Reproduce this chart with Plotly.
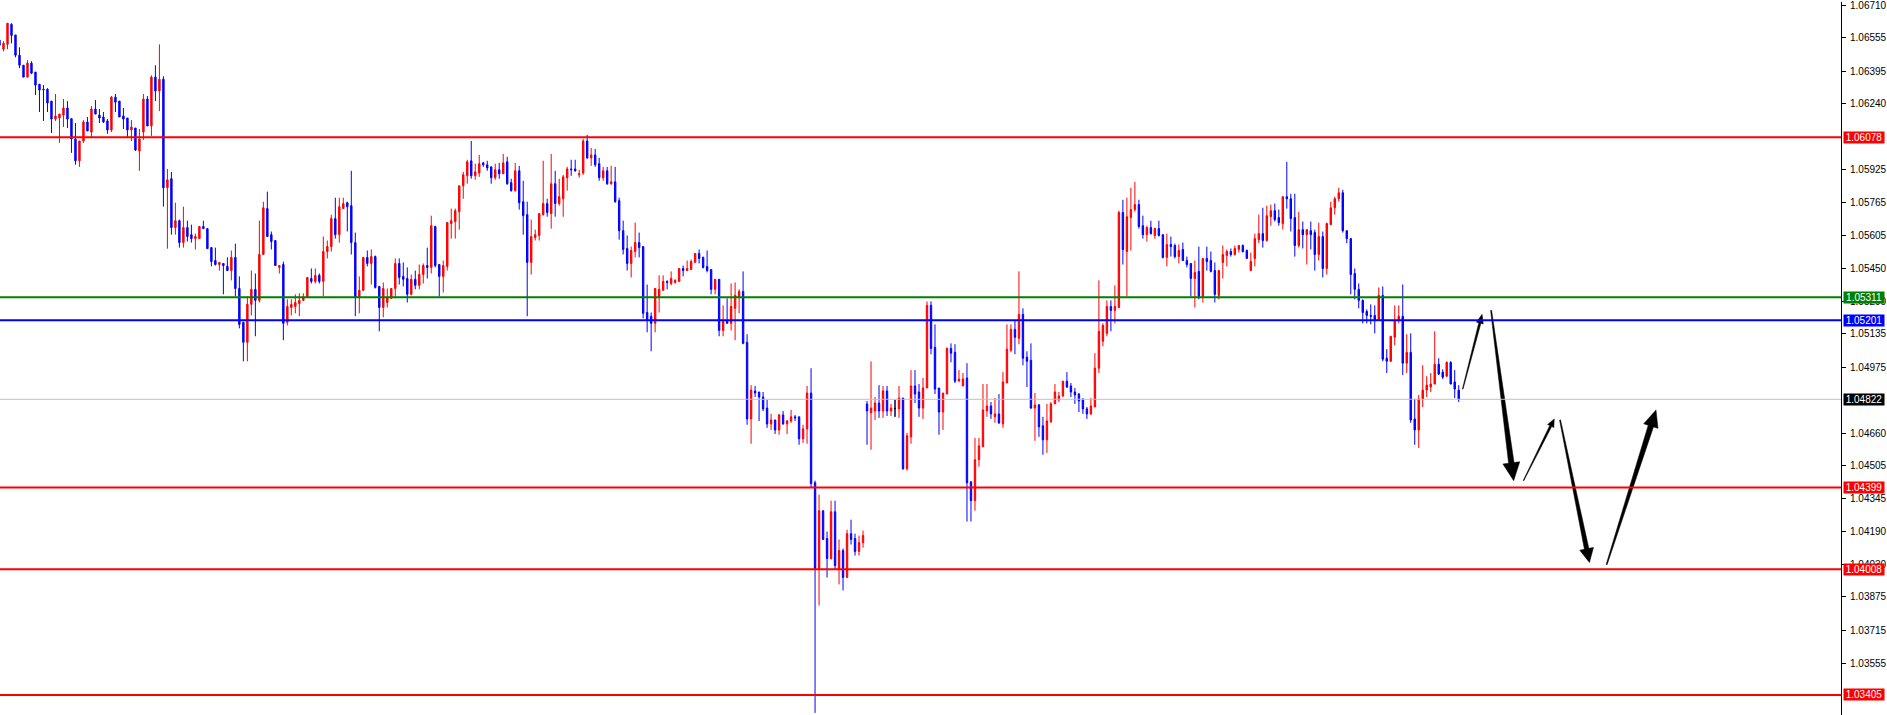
import math
import plotly.graph_objects as go

# ---------------- data (bar index -1 .. 364) ----------------
bar_index = list(range(-1, 365))

opens = [
 1.06543,
 1.06500, 1.06523, 1.06619, 1.06568, 1.06471, 1.06423, 1.06366, 1.06433, 1.06390, 1.06332,
 1.06308, 1.06308, 1.06251, 1.06165, 1.06170, 1.06184, 1.06218, 1.06167, 1.06070, 1.05965,
 1.06060, 1.06151, 1.06103, 1.06213, 1.06184, 1.06175, 1.06156, 1.06113, 1.06270, 1.06251,
 1.06180, 1.06170, 1.06113, 1.06122, 1.06012, 1.06103, 1.06261, 1.06132, 1.06366, 1.06300,
 1.06356, 1.05836, 1.05879, 1.05645, 1.05678, 1.05573, 1.05645, 1.05611, 1.05592, 1.05592,
 1.05650, 1.05640, 1.05549, 1.05487, 1.05468, 1.05473, 1.05459, 1.05439, 1.05502, 1.05353,
 1.05191, 1.05095, 1.05277, 1.05349, 1.05296, 1.05516, 1.05736, 1.05611, 1.05583, 1.05454,
 1.05468, 1.05191, 1.05262, 1.05267, 1.05281, 1.05296, 1.05310, 1.05401, 1.05387, 1.05416,
 1.05387, 1.05530, 1.05554, 1.05688, 1.05611, 1.05736, 1.05764, 1.05750, 1.05573, 1.05310,
 1.05344, 1.05502, 1.05473, 1.05506, 1.05363, 1.05262, 1.05286, 1.05306, 1.05353, 1.05473,
 1.05411, 1.05401, 1.05325, 1.05397, 1.05368, 1.05420, 1.05463, 1.05454, 1.05650, 1.05468,
 1.05411, 1.05459, 1.05664, 1.05674, 1.05721, 1.05845, 1.05893, 1.05965, 1.05893, 1.05907,
 1.05955, 1.05946, 1.05936, 1.05884, 1.05922, 1.05903, 1.05960, 1.05860, 1.05822, 1.05917,
 1.05769, 1.05707, 1.05478, 1.05597, 1.05607, 1.05707, 1.05760, 1.05712, 1.05855, 1.05760,
 1.05783, 1.05884, 1.05926, 1.05926, 1.05898, 1.05907, 1.06060, 1.05979, 1.05993, 1.05951,
 1.05884, 1.05917, 1.05855, 1.05864, 1.05774, 1.05630, 1.05545, 1.05473, 1.05530, 1.05573,
 1.05554, 1.05238, 1.05220, 1.05186, 1.05310, 1.05344, 1.05387, 1.05377, 1.05382, 1.05387,
 1.05449, 1.05439, 1.05444, 1.05478, 1.05521, 1.05502, 1.05459, 1.05444, 1.05349, 1.05397,
 1.05152, 1.05196, 1.05186, 1.05258, 1.05315, 1.05339, 1.05095, 1.04728, 1.04862, 1.04857,
 1.04833, 1.04780, 1.04704, 1.04723, 1.04675, 1.04747, 1.04704, 1.04718, 1.04738, 1.04738,
 1.04633, 1.04680, 1.04852, 1.04422, 1.04011, 1.04288, 1.04155, 1.04059, 1.04283, 1.04006,
 1.04097, 1.03968, 1.04178, 1.04155, 1.04093, 1.04135, 1.04800, 1.04757, 1.04766, 1.04804,
 1.04766, 1.04862, 1.04766, 1.04778, 1.04776, 1.04828, 1.04489, 1.04642, 1.04886, 1.04857,
 1.04780, 1.04876, 1.05272, 1.05071, 1.04876, 1.04761, 1.04847, 1.05066, 1.05047, 1.04909,
 1.04886, 1.04924, 1.04427, 1.04336, 1.04532, 1.04594, 1.04766, 1.04790, 1.04738, 1.04752,
 1.04704, 1.04900, 1.05057, 1.05157, 1.05114, 1.05229, 1.05024, 1.05009, 1.04780, 1.04795,
 1.04695, 1.04628, 1.04714, 1.04800, 1.04819, 1.04838, 1.04909, 1.04886, 1.04857, 1.04847,
 1.04819, 1.04776, 1.04752, 1.04785, 1.04971, 1.05100, 1.05138, 1.05267, 1.05248, 1.05262,
 1.05717, 1.05530, 1.05693, 1.05731, 1.05755, 1.05654, 1.05611, 1.05645, 1.05607, 1.05640,
 1.05611, 1.05502, 1.05564, 1.05559, 1.05506, 1.05540, 1.05487, 1.05473, 1.05401, 1.05435,
 1.05315, 1.05497, 1.05487, 1.05439, 1.05320, 1.05478, 1.05511, 1.05530, 1.05516, 1.05540,
 1.05559, 1.05535, 1.05439, 1.05497, 1.05587, 1.05616, 1.05583, 1.05697, 1.05726, 1.05693,
 1.05664, 1.05793, 1.05783, 1.05693, 1.05559, 1.05635, 1.05611, 1.05630, 1.05621, 1.05516,
 1.05602, 1.05449, 1.05659, 1.05740, 1.05783, 1.05812, 1.05630, 1.05592, 1.05425, 1.05349,
 1.05296, 1.05243, 1.05224, 1.05224, 1.05200, 1.05320, 1.05019, 1.05004, 1.05119, 1.05200,
 1.05220, 1.04995, 1.05047, 1.04728, 1.04675, 1.04824, 1.04866, 1.04881, 1.04895, 1.04990,
 1.04952, 1.04933, 1.04999, 1.04905, 1.04866,
]

highs = [
 1.06547,
 1.06538, 1.06624, 1.06624, 1.06568, 1.06509, 1.06423, 1.06447, 1.06442, 1.06390, 1.06332,
 1.06328, 1.06313, 1.06251, 1.06285, 1.06189, 1.06261, 1.06251, 1.06167, 1.06146, 1.06060,
 1.06160, 1.06175, 1.06227, 1.06256, 1.06213, 1.06199, 1.06165, 1.06275, 1.06285, 1.06251,
 1.06218, 1.06170, 1.06160, 1.06122, 1.06117, 1.06285, 1.06275, 1.06375, 1.06423, 1.06523,
 1.06370, 1.05926, 1.05912, 1.05764, 1.05683, 1.05745, 1.05678, 1.05659, 1.05616, 1.05650,
 1.05678, 1.05640, 1.05549, 1.05549, 1.05478, 1.05473, 1.05502, 1.05535, 1.05568, 1.05411,
 1.05191, 1.05315, 1.05439, 1.05425, 1.05678, 1.05769, 1.05817, 1.05626, 1.05583, 1.05463,
 1.05482, 1.05301, 1.05301, 1.05325, 1.05330, 1.05330, 1.05406, 1.05449, 1.05449, 1.05425,
 1.05602, 1.05583, 1.05707, 1.05788, 1.05788, 1.05788, 1.05769, 1.05917, 1.05621, 1.05411,
 1.05502, 1.05535, 1.05540, 1.05511, 1.05363, 1.05382, 1.05353, 1.05353, 1.05497, 1.05497,
 1.05478, 1.05454, 1.05420, 1.05439, 1.05468, 1.05473, 1.05549, 1.05702, 1.05654, 1.05468,
 1.05487, 1.05669, 1.05736, 1.05736, 1.05845, 1.05912, 1.05970, 1.06060, 1.05951, 1.05993,
 1.05960, 1.05965, 1.05936, 1.05951, 1.05955, 1.05998, 1.05984, 1.05879, 1.05955, 1.05941,
 1.05869, 1.05769, 1.05683, 1.05635, 1.05712, 1.05965, 1.05783, 1.05998, 1.05917, 1.05879,
 1.05898, 1.05936, 1.05970, 1.05970, 1.05922, 1.06070, 1.06089, 1.06027, 1.06022, 1.05979,
 1.05936, 1.05936, 1.05941, 1.05936, 1.05788, 1.05678, 1.05607, 1.05554, 1.05669, 1.05621,
 1.05554, 1.05372, 1.05238, 1.05353, 1.05416, 1.05416, 1.05392, 1.05435, 1.05397, 1.05449,
 1.05463, 1.05487, 1.05492, 1.05521, 1.05540, 1.05506, 1.05535, 1.05444, 1.05397, 1.05397,
 1.05272, 1.05306, 1.05377, 1.05382, 1.05349, 1.05435, 1.05134, 1.04890, 1.04886, 1.04857,
 1.04857, 1.04819, 1.04752, 1.04723, 1.04752, 1.04766, 1.04723, 1.04771, 1.04747, 1.04738,
 1.04700, 1.04886, 1.04971, 1.04432, 1.04365, 1.04288, 1.04188, 1.04336, 1.04336, 1.04150,
 1.04107, 1.04197, 1.04245, 1.04178, 1.04169, 1.04193, 1.04814, 1.05004, 1.04833, 1.04890,
 1.04886, 1.04886, 1.04800, 1.04819, 1.04886, 1.04828, 1.04661, 1.04962, 1.04962, 1.04895,
 1.04924, 1.05291, 1.05291, 1.05181, 1.04876, 1.04852, 1.05071, 1.05090, 1.05086, 1.04962,
 1.04948, 1.04995, 1.04427, 1.04637, 1.04637, 1.04895, 1.04895, 1.04809, 1.04828, 1.04847,
 1.04952, 1.05181, 1.05181, 1.05200, 1.05435, 1.05258, 1.05052, 1.05090, 1.04852, 1.04800,
 1.04738, 1.04800, 1.04809, 1.04895, 1.04857, 1.04909, 1.04952, 1.04900, 1.04876, 1.04852,
 1.04828, 1.04785, 1.04828, 1.05043, 1.05392, 1.05186, 1.05296, 1.05296, 1.05368, 1.05726,
 1.05778, 1.05788, 1.05836, 1.05864, 1.05778, 1.05702, 1.05654, 1.05678, 1.05645, 1.05678,
 1.05611, 1.05616, 1.05602, 1.05568, 1.05564, 1.05573, 1.05506, 1.05473, 1.05487, 1.05554,
 1.05497, 1.05554, 1.05530, 1.05478, 1.05439, 1.05559, 1.05540, 1.05545, 1.05559, 1.05561,
 1.05564, 1.05540, 1.05525, 1.05616, 1.05707, 1.05740, 1.05750, 1.05755, 1.05760, 1.05731,
 1.05793, 1.05960, 1.05807, 1.05807, 1.05721, 1.05674, 1.05635, 1.05674, 1.05635, 1.05669,
 1.05626, 1.05669, 1.05769, 1.05793, 1.05836, 1.05826, 1.05630, 1.05592, 1.05449, 1.05377,
 1.05301, 1.05253, 1.05277, 1.05272, 1.05358, 1.05363, 1.05062, 1.05124, 1.05272, 1.05272,
 1.05372, 1.05134, 1.05138, 1.04824, 1.04843, 1.04985, 1.04933, 1.04948, 1.05148, 1.05019,
 1.04966, 1.05004, 1.05004, 1.04962, 1.04890,
]

lows = [
 1.06509,
 1.06490, 1.06500, 1.06528, 1.06461, 1.06409, 1.06366, 1.06366, 1.06380, 1.06280, 1.06199,
 1.06156, 1.06199, 1.06098, 1.06156, 1.06051, 1.06127, 1.06122, 1.06003, 1.05946, 1.05936,
 1.06051, 1.06108, 1.06079, 1.06189, 1.06146, 1.06146, 1.06094, 1.06103, 1.06199, 1.06175,
 1.06117, 1.06074, 1.06060, 1.06012, 1.05917, 1.06065, 1.06132, 1.06084, 1.06251, 1.06203,
 1.05745, 1.05544, 1.05611, 1.05611, 1.05549, 1.05549, 1.05578, 1.05573, 1.05540, 1.05592,
 1.05640, 1.05544, 1.05459, 1.05463, 1.05439, 1.05325, 1.05439, 1.05392, 1.05315, 1.05162,
 1.05004, 1.05004, 1.05224, 1.05124, 1.05286, 1.05516, 1.05602, 1.05540, 1.05463, 1.05425,
 1.05105, 1.05176, 1.05224, 1.05234, 1.05220, 1.05296, 1.05310, 1.05377, 1.05377, 1.05377,
 1.05315, 1.05497, 1.05530, 1.05592, 1.05573, 1.05736, 1.05626, 1.05516, 1.05220, 1.05234,
 1.05344, 1.05459, 1.05372, 1.05353, 1.05148, 1.05215, 1.05262, 1.05306, 1.05306, 1.05372,
 1.05363, 1.05286, 1.05320, 1.05349, 1.05349, 1.05377, 1.05401, 1.05425, 1.05454, 1.05315,
 1.05334, 1.05439, 1.05592, 1.05592, 1.05635, 1.05783, 1.05855, 1.05879, 1.05874, 1.05888,
 1.05936, 1.05917, 1.05855, 1.05874, 1.05879, 1.05903, 1.05850, 1.05817, 1.05817, 1.05731,
 1.05611, 1.05220, 1.05420, 1.05583, 1.05583, 1.05702, 1.05697, 1.05640, 1.05697, 1.05750,
 1.05697, 1.05822, 1.05893, 1.05912, 1.05884, 1.05898, 1.05974, 1.05941, 1.05936, 1.05869,
 1.05869, 1.05850, 1.05850, 1.05764, 1.05587, 1.05516, 1.05439, 1.05406, 1.05502, 1.05502,
 1.05210, 1.05143, 1.05052, 1.05143, 1.05238, 1.05344, 1.05349, 1.05368, 1.05377, 1.05387,
 1.05411, 1.05439, 1.05444, 1.05478, 1.05473, 1.05449, 1.05430, 1.05325, 1.05325, 1.05124,
 1.05124, 1.05186, 1.05152, 1.05105, 1.05234, 1.05086, 1.04700, 1.04609, 1.04833, 1.04718,
 1.04766, 1.04685, 1.04675, 1.04656, 1.04652, 1.04700, 1.04656, 1.04709, 1.04718, 1.04604,
 1.04613, 1.04609, 1.04398, 1.03319, 1.03834, 1.04150, 1.03968, 1.04054, 1.04006, 1.03935,
 1.03906, 1.03968, 1.04126, 1.04073, 1.04073, 1.04111, 1.04604, 1.04580, 1.04723, 1.04733,
 1.04733, 1.04742, 1.04742, 1.04738, 1.04733, 1.04484, 1.04480, 1.04609, 1.04804, 1.04738,
 1.04728, 1.04876, 1.05038, 1.04847, 1.04652, 1.04675, 1.04847, 1.04999, 1.04900, 1.04909,
 1.04886, 1.04236, 1.04236, 1.04288, 1.04499, 1.04594, 1.04738, 1.04728, 1.04709, 1.04704,
 1.04685, 1.04900, 1.05047, 1.05038, 1.05086, 1.04985, 1.04881, 1.04776, 1.04623, 1.04642,
 1.04556, 1.04565, 1.04709, 1.04800, 1.04809, 1.04833, 1.04876, 1.04833, 1.04800, 1.04761,
 1.04752, 1.04728, 1.04747, 1.04785, 1.04948, 1.05076, 1.05124, 1.05148, 1.05186, 1.05258,
 1.05468, 1.05315, 1.05535, 1.05721, 1.05640, 1.05592, 1.05578, 1.05611, 1.05592, 1.05602,
 1.05497, 1.05459, 1.05506, 1.05497, 1.05473, 1.05487, 1.05454, 1.05315, 1.05262, 1.05301,
 1.05286, 1.05439, 1.05430, 1.05286, 1.05301, 1.05401, 1.05459, 1.05506, 1.05511, 1.05525,
 1.05525, 1.05497, 1.05439, 1.05459, 1.05570, 1.05549, 1.05578, 1.05654, 1.05674, 1.05654,
 1.05635, 1.05736, 1.05626, 1.05506, 1.05549, 1.05545, 1.05468, 1.05540, 1.05439, 1.05487,
 1.05406, 1.05420, 1.05659, 1.05707, 1.05769, 1.05621, 1.05570, 1.05325, 1.05301, 1.05258,
 1.05186, 1.05186, 1.05181, 1.05138, 1.05200, 1.05004, 1.04948, 1.05004, 1.05081, 1.05186,
 1.04938, 1.04948, 1.04709, 1.04604, 1.04589, 1.04785, 1.04833, 1.04857, 1.04895, 1.04938,
 1.04919, 1.04928, 1.04895, 1.04828, 1.04809,
]

closes = [
 1.06519,
 1.06528, 1.06624, 1.06566, 1.06471, 1.06423, 1.06366, 1.06433, 1.06385, 1.06328, 1.06304,
 1.06305, 1.06242, 1.06165, 1.06180, 1.06189, 1.06218, 1.06165, 1.06070, 1.05965, 1.06060,
 1.06151, 1.06108, 1.06213, 1.06189, 1.06170, 1.06151, 1.06113, 1.06270, 1.06246, 1.06175,
 1.06165, 1.06113, 1.06127, 1.06017, 1.06070, 1.06261, 1.06132, 1.06366, 1.06300, 1.06356,
 1.05836, 1.05874, 1.05645, 1.05678, 1.05573, 1.05645, 1.05602, 1.05592, 1.05602, 1.05650,
 1.05640, 1.05544, 1.05482, 1.05468, 1.05478, 1.05463, 1.05439, 1.05502, 1.05353, 1.05181,
 1.05095, 1.05277, 1.05349, 1.05296, 1.05516, 1.05740, 1.05602, 1.05578, 1.05463, 1.05463,
 1.05186, 1.05267, 1.05277, 1.05286, 1.05296, 1.05310, 1.05406, 1.05387, 1.05416, 1.05387,
 1.05530, 1.05554, 1.05688, 1.05611, 1.05745, 1.05760, 1.05745, 1.05573, 1.05310, 1.05344,
 1.05502, 1.05473, 1.05506, 1.05358, 1.05262, 1.05353, 1.05310, 1.05353, 1.05473, 1.05406,
 1.05397, 1.05325, 1.05397, 1.05368, 1.05420, 1.05463, 1.05454, 1.05654, 1.05463, 1.05411,
 1.05463, 1.05669, 1.05678, 1.05726, 1.05845, 1.05898, 1.05960, 1.05893, 1.05912, 1.05951,
 1.05946, 1.05931, 1.05884, 1.05922, 1.05903, 1.05955, 1.05855, 1.05822, 1.05917, 1.05764,
 1.05702, 1.05478, 1.05602, 1.05611, 1.05712, 1.05760, 1.05717, 1.05855, 1.05760, 1.05793,
 1.05888, 1.05926, 1.05922, 1.05917, 1.05903, 1.06060, 1.05979, 1.05993, 1.05946, 1.05884,
 1.05917, 1.05855, 1.05864, 1.05769, 1.05630, 1.05540, 1.05473, 1.05535, 1.05573, 1.05549,
 1.05234, 1.05200, 1.05186, 1.05353, 1.05349, 1.05387, 1.05382, 1.05401, 1.05392, 1.05449,
 1.05439, 1.05449, 1.05482, 1.05521, 1.05497, 1.05454, 1.05439, 1.05349, 1.05397, 1.05152,
 1.05196, 1.05186, 1.05267, 1.05320, 1.05339, 1.05090, 1.04728, 1.04866, 1.04852, 1.04833,
 1.04776, 1.04704, 1.04723, 1.04675, 1.04747, 1.04704, 1.04718, 1.04738, 1.04733, 1.04633,
 1.04680, 1.04852, 1.04418, 1.04011, 1.04288, 1.04150, 1.04059, 1.04283, 1.04025, 1.04097,
 1.03968, 1.04178, 1.04150, 1.04093, 1.04135, 1.04169, 1.04766, 1.04780, 1.04804, 1.04766,
 1.04862, 1.04766, 1.04780, 1.04778, 1.04828, 1.04489, 1.04647, 1.04886, 1.04847, 1.04780,
 1.04876, 1.05272, 1.05066, 1.04871, 1.04761, 1.04852, 1.05066, 1.05043, 1.04909, 1.04919,
 1.04919, 1.04422, 1.04336, 1.04532, 1.04599, 1.04771, 1.04790, 1.04752, 1.04752, 1.04709,
 1.04905, 1.05062, 1.05157, 1.05119, 1.05229, 1.05019, 1.05004, 1.04780, 1.04795, 1.04690,
 1.04628, 1.04718, 1.04800, 1.04857, 1.04838, 1.04909, 1.04881, 1.04857, 1.04843, 1.04814,
 1.04776, 1.04752, 1.04790, 1.04971, 1.05148, 1.05176, 1.05267, 1.05248, 1.05267, 1.05717,
 1.05540, 1.05697, 1.05731, 1.05755, 1.05650, 1.05611, 1.05645, 1.05616, 1.05640, 1.05607,
 1.05502, 1.05564, 1.05554, 1.05506, 1.05535, 1.05487, 1.05468, 1.05401, 1.05430, 1.05315,
 1.05497, 1.05482, 1.05435, 1.05325, 1.05439, 1.05516, 1.05530, 1.05516, 1.05545, 1.05559,
 1.05530, 1.05497, 1.05482, 1.05592, 1.05616, 1.05583, 1.05702, 1.05726, 1.05683, 1.05669,
 1.05793, 1.05783, 1.05688, 1.05559, 1.05635, 1.05611, 1.05635, 1.05611, 1.05516, 1.05602,
 1.05449, 1.05664, 1.05740, 1.05783, 1.05812, 1.05630, 1.05592, 1.05420, 1.05349, 1.05296,
 1.05238, 1.05224, 1.05220, 1.05200, 1.05320, 1.05014, 1.05004, 1.05124, 1.05200, 1.05220,
 1.04995, 1.05047, 1.04723, 1.04675, 1.04824, 1.04866, 1.04890, 1.04895, 1.04990, 1.04943,
 1.04928, 1.04999, 1.04895, 1.04871, 1.04822,
]

doji_bars = [223]

# right-hand price scale
tick_prices = [1.06710, 1.06555, 1.06395, 1.06240, 1.05925, 1.05765, 1.05605, 1.05450,
               1.05290, 1.05135, 1.04975, 1.04660, 1.04505, 1.04345, 1.04190, 1.04030,
               1.03875, 1.03715, 1.03555]
tick_labels = ["%.5f" % v for v in tick_prices]

# horizontal levels
level_prices = [1.06078, 1.05311, 1.05201, 1.04822, 1.04399, 1.04008, 1.03405]
level_labels = ["1.06078", "1.05311", "1.05201", "1.04822", "1.04399", "1.04008", "1.03405"]
level_line_colors = ["#ff0000", "#008000", "#0000ff", "#c0c0c0", "#ff0000", "#ff0000", "#ff0000"]
level_box_colors = ["#ff0000", "#008000", "#0000ff", "#000000", "#ff0000", "#ff0000", "#ff0000"]
level_widths = [2, 2, 2, 1, 2, 2, 2]

# projected path arrows (tail -> tip), bar index / price
arrow_tail_x = [365.0, 372.1, 380.2, 389.35, 401.0]
arrow_tail_y = [1.04871, 1.05248, 1.04432, 1.04723, 1.04030]
arrow_head_x = [369.85, 377.75, 387.9, 396.7, 413.35]
arrow_head_y = [1.05229, 1.04432, 1.04728, 1.04040, 1.04771]
# style (pixels): tail width, shaft width at head base, head width, head length
arrow_tail_w = [0.6, 1.0, 0.6, 1.0, 1.0]
arrow_shaft_w = [2.2, 5.5, 2.2, 4.5, 5.5]
arrow_head_w = [7.0, 17.0, 7.0, 14.0, 15.0]
arrow_head_len = [9.0, 18.0, 8.0, 14.0, 17.0]

# ---------------- figure ----------------
W, H = 1887, 715
PLOT_W = 1842
X_RANGE = [-0.875, -0.875 + PLOT_W / 4.0]
Y_RANGE = [1.03309, 1.06726]

fig = go.Figure()
fig.add_trace(go.Candlestick(
    x=bar_index, open=opens, high=highs, low=lows, close=closes,
    increasing=dict(line=dict(color="#ff0000", width=1), fillcolor="#ff0000"),
    decreasing=dict(line=dict(color="#0000ff", width=1), fillcolor="#0000ff"),
    whiskerwidth=0, hoverinfo="skip", showlegend=False,
))

pos = [bar_index.index(b) for b in doji_bars]
fig.add_trace(go.Candlestick(
    x=[bar_index[i] for i in pos], open=[opens[i] for i in pos], high=[highs[i] for i in pos],
    low=[lows[i] for i in pos], close=[closes[i] for i in pos],
    increasing=dict(line=dict(color="#000000", width=1), fillcolor="#000000"),
    decreasing=dict(line=dict(color="#000000", width=1), fillcolor="#000000"),
    whiskerwidth=0, hoverinfo="skip", showlegend=False,
))

# tapered arrows as filled polygons (geometry in screen units, mapped back to data)
sx = PLOT_W / (X_RANGE[1] - X_RANGE[0])          # px per bar
sy = H / (Y_RANGE[1] - Y_RANGE[0])               # px per price unit


def to_px(x, y):
    return ((x - X_RANGE[0]) * sx, (Y_RANGE[1] - y) * sy)


def to_data(px, py):
    return (px / sx + X_RANGE[0], Y_RANGE[1] - py / sy)


for tx, ty, hx, hy, wt, ws, wh, hl in zip(arrow_tail_x, arrow_tail_y, arrow_head_x,
                                          arrow_head_y, arrow_tail_w, arrow_shaft_w,
                                          arrow_head_w, arrow_head_len):
    ax_, ay_ = to_px(tx, ty)
    bx_, by_ = to_px(hx, hy)
    dx, dy = bx_ - ax_, by_ - ay_
    L = math.hypot(dx, dy)
    ux, uy = dx / L, dy / L
    nx, ny = -uy, ux
    cx, cy = bx_ - ux * hl, by_ - uy * hl
    pts = [
        (ax_ + nx * wt / 2, ay_ + ny * wt / 2),
        (cx + nx * ws / 2, cy + ny * ws / 2),
        (cx + nx * wh / 2, cy + ny * wh / 2),
        (bx_, by_),
        (cx - nx * wh / 2, cy - ny * wh / 2),
        (cx - nx * ws / 2, cy - ny * ws / 2),
        (ax_ - nx * wt / 2, ay_ - ny * wt / 2),
    ]
    dpts = [to_data(p[0], p[1]) for p in pts]
    fig.add_trace(go.Scatter(
        x=[p[0] for p in dpts] + [dpts[0][0]], y=[p[1] for p in dpts] + [dpts[0][1]],
        mode="lines", fill="toself", fillcolor="#000000",
        line=dict(color="#000000", width=0.5), hoverinfo="skip", showlegend=False,
    ))

for p, c, w in zip(level_prices, level_line_colors, level_widths):
    fig.add_shape(type="line", xref="paper", x0=0, x1=1, yref="y", y0=p, y1=p,
                  line=dict(color=c, width=w), layer="above")

for p, t, c in zip(level_prices, level_labels, level_box_colors):
    fig.add_annotation(xref="paper", x=1, yref="y", y=p, text=t, showarrow=False,
                       xanchor="left", yanchor="middle", xshift=2,
                       bgcolor=c, borderpad=1, width=38, height=9,
                       font=dict(family="Liberation Sans, Arial", size=10, color="#ffffff"))

fig.update_layout(
    width=W, height=H, autosize=False,
    margin=dict(l=0, r=W - PLOT_W, t=0, b=0, pad=0),
    paper_bgcolor="#ffffff", plot_bgcolor="#ffffff",
    boxgap=0.5,
    showlegend=False,
    font=dict(family="Liberation Sans, Arial", size=10, color="#000000"),
    xaxis=dict(range=X_RANGE, visible=False, showgrid=False,
               zeroline=False, rangeslider=dict(visible=False), fixedrange=True),
    yaxis=dict(range=Y_RANGE, side="right", showgrid=False, zeroline=False,
               showline=True, linecolor="#000000", linewidth=1,
               tickmode="array", tickvals=tick_prices, ticktext=tick_labels,
               ticks="outside", ticklen=4, tickcolor="#000000", tickwidth=1,
               ticklabelstandoff=2, ticklabeloverflow="allow",
               tickfont=dict(family="Liberation Sans, Arial", size=10, color="#000000"),
               fixedrange=True),
)

fig.write_html("out.html", config={"displayModeBar": False},
               post_script="document.body.style.margin='0';document.body.style.overflow='hidden';")
